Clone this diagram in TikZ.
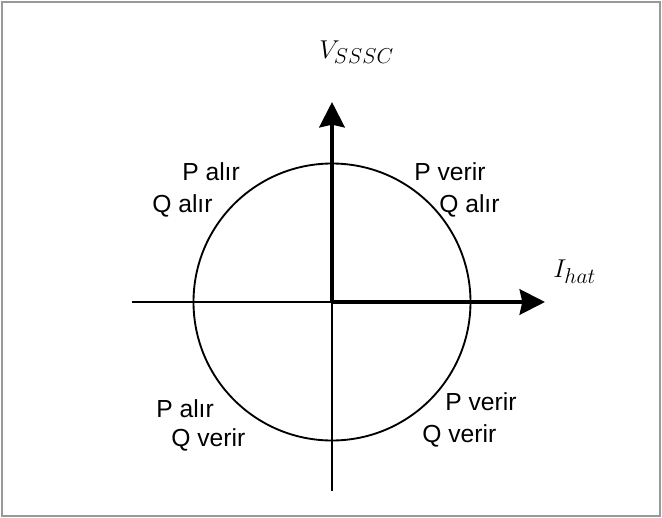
\documentclass[tikz,border=0pt]{standalone}
\usepackage{fontspec}
\setmainfont{Liberation Sans}
\usepackage{tikz}
\usetikzlibrary{arrows.meta, positioning}
\DeclareMathSizes{17.28}{17.28}{14.4}{12}
\newcommand{\axtext}[1]{\scalebox{1.12}{$#1$}}
\tikzset{
  axis/.style={line width=1.2pt, draw=black},
  vector/.style={line width=3pt, draw=black,
    -{Stealth[length=19pt, width=19pt, inset=2pt]}},
  locus/.style={line width=1.4pt, draw=black},
  quad/.style={anchor=base west, inner sep=0pt,
    font=\fontsize{18.5}{22}\selectfont},
  axlabel/.style={anchor=base west, inner sep=0pt,
    font=\fontsize{17.28}{21}\selectfont}
}

\begin{document}
\begin{tikzpicture}[x=0.75pt, y=-0.75pt]

% Frame
\useasboundingbox (0,0) rectangle (662,518);
\draw[gray!80, line width=1.2pt] (2,2) rectangle (660,516);

% Axis points
\coordinate (o) at (332,302);
\coordinate (xl) at (132,302);
\coordinate (xr) at (545,302);
\coordinate (yt) at (332,102);
\coordinate (yb) at (332,491);

% Operating circle
\draw[locus] (o) circle[radius=138.5];

% Axes
\draw[axis] (xl) -- (o);
\draw[axis] (o) -- (yb);
\draw[vector] (o) -- (xr);
\draw[vector] (o) -- (yt);

% Axis labels
\node[axlabel] (vs) at (319,58) {\axtext{V_{SSSC}}};
\node[axlabel] (ih) at (553,277) {\axtext{I_{hat}}};

% Quadrant labels
\node[quad] (pa1) at (182,180) {P alır};
\node[quad] (qa1) at (152,212) {Q alır};
\node[quad] (pv1) at (414,180) {P verir};
\node[quad] (qa2) at (439,212) {Q alır};
\node[quad] (pa2) at (156,417) {P alır};
\node[quad] (qv1) at (171,446) {Q verir};
\node[quad] (pv2) at (445,410) {P verir};
\node[quad] (qv2) at (422,442) {Q verir};

\end{tikzpicture}
\end{document}
